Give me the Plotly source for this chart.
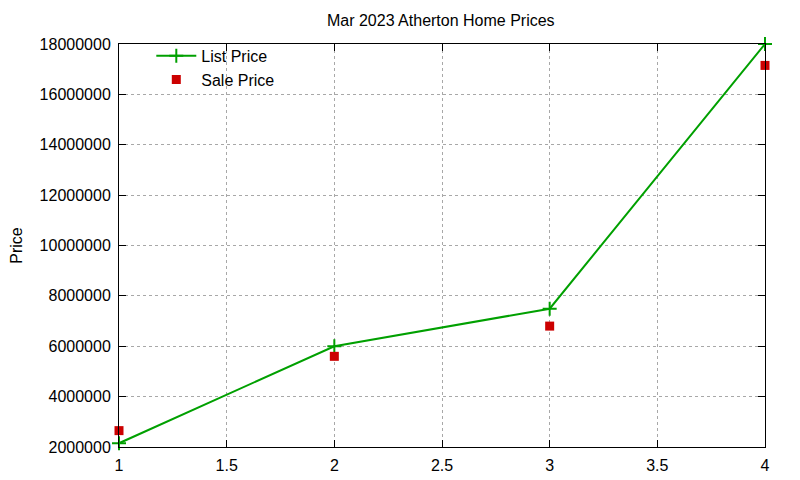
import plotly.graph_objects as go

# Atherton home prices, Mar 2023
x_vals = [1, 2, 3, 4]
list_price = [2150000, 6000000, 7490000, 18000000]
sale_price = [2650000, 5600000, 6800000, 17150000]

GREEN = "#00a000"
RED = "#cc0000"

fig = go.Figure()
fig.add_trace(go.Scatter(
    x=x_vals, y=list_price, name="List Price", mode="lines+markers",
    line=dict(color=GREEN, width=2),
    marker=dict(symbol="cross-thin-open", size=10, line=dict(color=GREEN, width=2)),
    cliponaxis=False,
))
fig.add_trace(go.Scatter(
    x=x_vals, y=sale_price, name="Sale Price", mode="markers",
    marker=dict(symbol="square", size=9, color=RED),
    cliponaxis=False,
))

axis_common = dict(
    showline=True, linecolor="black", linewidth=1, mirror="allticks",
    ticks="inside", ticklen=7, tickcolor="black",
    showgrid=True, gridcolor="#a8a8a8", griddash="dot", gridwidth=1,
    zeroline=False, tickfont=dict(size=16, color="black"), automargin=False,
)

fig.update_layout(
    width=800, height=480,
    paper_bgcolor="white", plot_bgcolor="white",
    font=dict(family="Liberation Sans, Arial, sans-serif", size=16, color="black"),
    margin=dict(l=111, r=43, t=36, b=41),
    title=dict(text="Mar 2023 Atherton Home Prices", x=0.541, xanchor="center",
               y=0.975, yanchor="middle", font=dict(size=16)),
    xaxis=dict(range=[1, 4], dtick=0.5, tick0=1, ticklabelstandoff=4, **axis_common),
    yaxis=dict(range=[2000000, 18000000], dtick=2000000, tickformat="d",
               ticklabelstandoff=4,
               title=dict(text="Price", standoff=20, font=dict(size=16)), **axis_common),
    legend=dict(x=0.05, y=1.013, xanchor="left", yanchor="top",
                bgcolor="rgba(0,0,0,0)", font=dict(size=16),
                tracegroupgap=0, itemwidth=40),
    showlegend=True,
)

fig.write_html("out.html")
